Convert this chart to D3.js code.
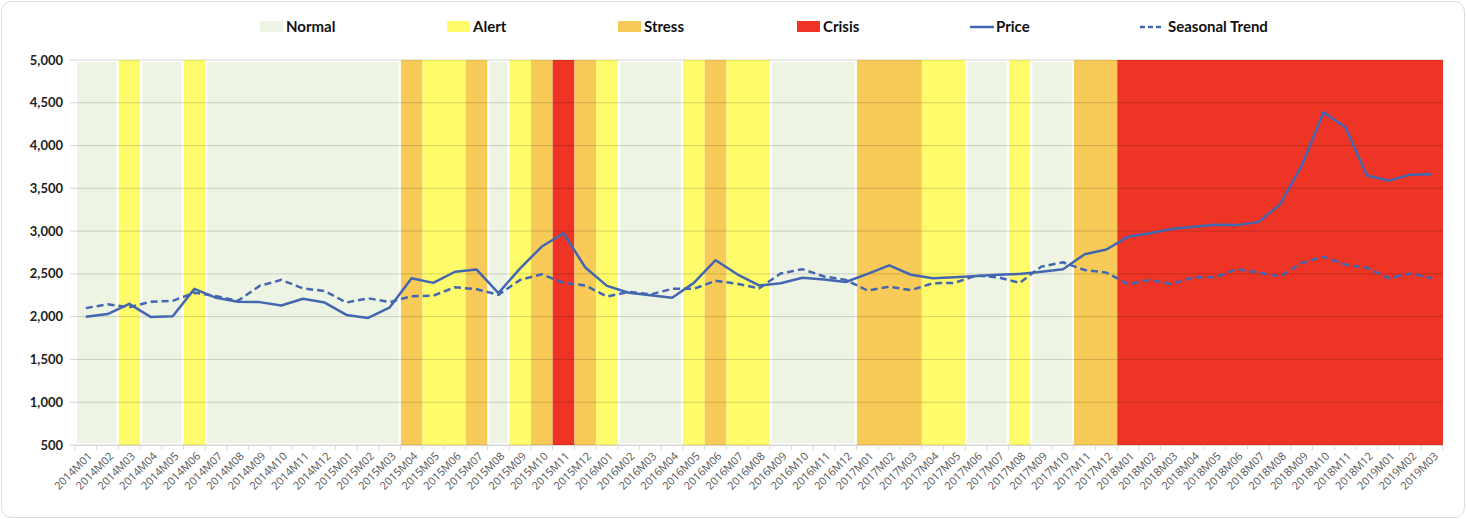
<!DOCTYPE html>
<html><head><meta charset="utf-8">
<script src="https://cdn.jsdelivr.net/npm/d3@7"></script>
<style>body{margin:0;background:#fff;}svg{display:block;font-family:Lato,"Open Sans",sans-serif;}</style>
</head><body><svg id="c" width="1466" height="519"></svg>
<script>
const months = [];
const years = [2014,2015,2016,2017,2018,2019];
for (const y of years) for (let m=1;m<=12;m++){ if (y===2019 && m>3) break; months.push(y+"M"+String(m).padStart(2,"0")); }

const stateCodes = [
 // 2014
 "N","N","A","N","N","A","N","N","N","N","N","N",
 // 2015
 "N","N","N","S","A","A","S","N","A","S","C","S",
 // 2016
 "A","N","N","N","A","S","A","A","N","N","N","N",
 // 2017
 "S","S","S","A","A","N","N","A","N","N","S","S",
 // 2018
 "C","C","C","C","C","C","C","C","C","C","C","C",
 // 2019
 "C","C","C"];

const price = [
 2000,2030,2150,1995,2005,2325,2220,2175,2170,2130,2210,2165,
 2020,1985,2110,2450,2395,2525,2550,2275,2565,2820,2975,2575,
 2360,2280,2250,2220,2395,2660,2495,2365,2390,2455,2435,2405,
 2500,2600,2490,2450,2460,2475,2490,2500,2525,2555,2730,2785,
 2935,2975,3025,3050,3075,3070,3105,3315,3770,4390,4215,3650,
 3590,3660,3665];

const trend = [
 2100,2145,2110,2175,2185,2280,2240,2185,2360,2430,2330,2300,
 2165,2215,2170,2240,2245,2345,2320,2255,2430,2495,2395,2365,
 2235,2290,2260,2325,2325,2420,2385,2330,2505,2555,2470,2430,
 2305,2350,2310,2390,2395,2480,2460,2395,2585,2635,2545,2515,
 2380,2430,2380,2460,2460,2555,2515,2470,2630,2700,2610,2570,
 2450,2505,2450];

const yTicks = [500,1000,1500,2000,2500,3000,3500,4000,4500,5000];
const stateNames = {N:"Normal",A:"Alert",S:"Stress",C:"Crisis"};
const stateColors = {N:"#EEF4E4",A:"#FFFC6C",S:"#F8CB58",C:"#EE3424"};
const lineColor = "#4267B0";

const svg = d3.select("#c");
const L=75, R=1443, T=60, B=445;

svg.append("rect").attr("x",1.5).attr("y",1.5).attr("width",1463).attr("height",516)
  .attr("rx",10).attr("fill","#fff").attr("stroke","#dcdcdc");

const x = d3.scaleBand().domain(months).range([L,R]).padding(0);
const y = d3.scaleLinear().domain([500,5000]).range([B,T]);

// runs of states
const runs=[];
stateCodes.forEach((s,i)=>{
  if(runs.length && runs[runs.length-1].s===s) runs[runs.length-1].end=i;
  else runs.push({s,start:i,end:i});
});
const bg = svg.append("g");
bg.selectAll("rect").data(runs).join("rect")
  .attr("x",d=>x(months[d.start]))
  .attr("width",d=>x(months[d.end])+x.bandwidth()-x(months[d.start]))
  .attr("y",y(5000)).attr("height",y(500)-y(5000))
  .attr("fill",d=>stateColors[d.s]);
bg.selectAll("rect.edge").data(runs.filter(r=>r.s==="N")).join("rect").attr("class","edge")
  .attr("x",d=>x(months[d.start])+1)
  .attr("width",d=>x(months[d.end])+x.bandwidth()-x(months[d.start])-2)
  .attr("y",y(5000)+1).attr("height",y(500)-y(5000)-2)
  .attr("fill","none").attr("stroke","#fff").attr("stroke-width",2);

// gridlines
svg.append("g").selectAll("line").data(yTicks).join("line")
  .attr("x1",L-5).attr("x2",R).attr("y1",d=>y(d)).attr("y2",d=>y(d))
  .attr("stroke","rgba(0,0,0,0.16)").attr("stroke-width",1);

// y axis labels
svg.append("g").selectAll("text").data(yTicks).join("text")
  .attr("x",L-12).attr("y",d=>y(d)).attr("dy","0.35em").attr("text-anchor","end")
  .attr("font-size",13).attr("font-weight",700).attr("fill","#222")
  .text(d=>d3.format(",")(d));

// x axis
const xa = svg.append("g");
xa.append("line").attr("x1",L).attr("x2",R).attr("y1",B+0.5).attr("y2",B+0.5).attr("stroke","#d9d9d9");
xa.selectAll("line.t").data(months.concat(["end"])).join("line").attr("class","t")
  .attr("x1",(d,i)=>L+i*x.bandwidth()).attr("x2",(d,i)=>L+i*x.bandwidth())
  .attr("y1",B).attr("y2",B+5).attr("stroke","#d9d9d9");
xa.selectAll("text").data(months).join("text")
  .attr("transform",d=>`translate(${x(d)+x.bandwidth()/2+4},${B+9}) rotate(-45)`)
  .attr("text-anchor","end").attr("dy","0.35em")
  .style("font-family","'Open Sans',sans-serif")
  .attr("font-size",11).attr("fill","#555").text(d=>d);

// lines
const ln = d3.line().x((d,i)=>x(months[i])+x.bandwidth()/2).y(d=>y(d));
svg.append("path").attr("d",ln(trend)).attr("fill","none").attr("stroke",lineColor)
  .attr("stroke-width",2.5).attr("stroke-dasharray","7,4");
svg.append("path").attr("d",ln(price)).attr("fill","none").attr("stroke",lineColor)
  .attr("stroke-width",2.5).attr("stroke-linejoin","round");

// legend
const legendItems = [
 {name:"Normal",type:"rect",color:stateColors.N,x:260},
 {name:"Alert",type:"rect",color:stateColors.A,x:447},
 {name:"Stress",type:"rect",color:stateColors.S,x:618},
 {name:"Crisis",type:"rect",color:stateColors.C,x:797},
 {name:"Price",type:"line",color:lineColor,x:970},
 {name:"Seasonal Trend",type:"dash",color:lineColor,x:1140}
];
const lg = svg.append("g");
legendItems.forEach(it=>{
  const g = lg.append("g");
  if(it.type==="rect"){
    g.append("rect").attr("x",it.x).attr("y",21).attr("width",23).attr("height",11).attr("fill",it.color);
  } else {
    g.append("line").attr("x1",it.x).attr("x2",it.x+24).attr("y1",27).attr("y2",27)
      .attr("stroke",it.color).attr("stroke-width",2.5)
      .attr("stroke-dasharray",it.type==="dash"?"5,3":null);
  }
  g.append("text").attr("x",it.x+(it.type==="dash"?28:26)).attr("y",27).attr("dy","0.35em")
    .attr("font-size",15).attr("font-weight",700).attr("fill","#111").text(it.name);
});
</script></body></html>
